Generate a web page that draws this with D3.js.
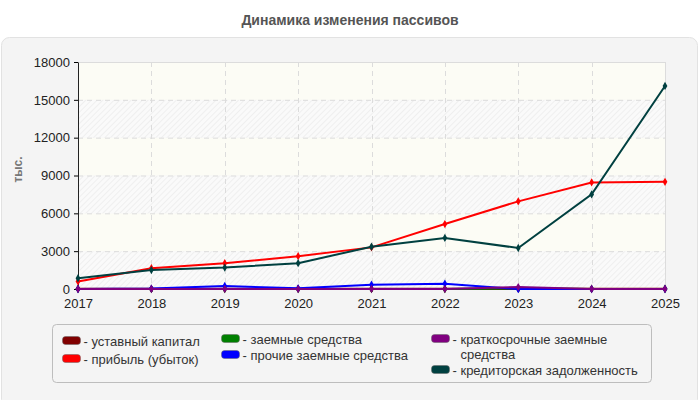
<!DOCTYPE html>
<html>
<head>
<meta charset="utf-8">
<script src="https://cdn.jsdelivr.net/npm/d3@7"></script>
<style>
  body { margin: 0; background: #fff; }
  text { font-family: "Liberation Sans", Arial, sans-serif; }
</style>
</head>
<body>
<div id="chart"></div>
<script>
// values (тыс.)
const years = [2017, 2018, 2019, 2020, 2021, 2022, 2023, 2024, 2025];
const yTicks = [0, 3000, 6000, 9000, 12000, 15000, 18000];

const ustavKapital = [20, 20, 20, 20, 20, 20, 20, 20, 20];
const pribyl = [600, 1650, 2050, 2600, 3300, 5150, 6950, 8450, 8500];
const zaemnye = [0, 0, 0, 0, 0, 0, 50, 0, 0];
const prochie = [0, 30, 240, 50, 340, 420, 0, 0, 0];
const kratkosrochnye = [0, 0, 0, 0, 0, 0, 150, 0, 0];
const kreditorka = [850, 1500, 1700, 2050, 3350, 4050, 3250, 7500, 16100];

const seriesNames = ["уставный капитал", "прибыль (убыток)", "заемные средства",
  "прочие заемные средства", "краткосрочные заемные средства", "кредиторская задолженность"];
const seriesColors = ["#800000", "#ff0000", "#008000", "#0000ff", "#800080", "#004040"];
const seriesValues = [ustavKapital, pribyl, zaemnye, prochie, kratkosrochnye, kreditorka];

const W = 700, H = 400;
const margin = {top: 62, right: 35, bottom: 111, left: 78};
const width = W - margin.left - margin.right;
const height = H - margin.top - margin.bottom;

const svg = d3.select("#chart").append("svg")
  .attr("width", W)
  .attr("height", H);

// hatch for the plot background
const defs = svg.append("defs");
const pat = defs.append("pattern")
  .attr("id", "hatch")
  .attr("patternUnits", "userSpaceOnUse")
  .attr("width", 4).attr("height", 4)
  .attr("patternTransform", "rotate(45)");
pat.append("rect").attr("width", 4).attr("height", 4).attr("fill", "#fafafa");
pat.append("line").attr("x1", 0).attr("y1", 0).attr("x2", 0).attr("y2", 4)
  .attr("stroke", "#ececec").attr("stroke-width", 1.5);

// outer panel
svg.append("rect")
  .attr("x", 1.5).attr("y", 37.5)
  .attr("width", 696).attr("height", 370)
  .attr("rx", 8)
  .attr("fill", "#f4f4f4")
  .attr("stroke", "#e2e2e2");

svg.append("text")
  .attr("x", W / 2).attr("y", 25)
  .attr("text-anchor", "middle")
  .style("font-size", "14px")
  .style("font-weight", "bold")
  .style("fill", "#555")
  .text("Динамика изменения пассивов");

svg.append("text")
  .attr("transform", "translate(22," + (margin.top + height / 2 - 6) + ") rotate(-90)")
  .attr("text-anchor", "middle")
  .style("font-size", "12px")
  .style("font-weight", "bold")
  .style("fill", "#777")
  .text("тыс.");

const g = svg.append("g")
  .attr("transform", "translate(" + margin.left + "," + margin.top + ")");

const x = d3.scaleLinear().domain([years[0], years[years.length - 1]]).range([0, width]);
const y = d3.scaleLinear().domain([0, 18000]).range([height, 0]);

// alternating bands
for (let i = 0; i < yTicks.length - 1; i++) {
  g.append("rect")
    .attr("x", 0)
    .attr("y", y(yTicks[i + 1]))
    .attr("width", width)
    .attr("height", y(yTicks[i]) - y(yTicks[i + 1]))
    .attr("fill", i % 2 === 0 ? "url(#hatch)" : "#fcfcf5");
}

// grid
g.selectAll(".hgrid").data(yTicks.slice(1, -1)).enter().append("line")
  .attr("x1", 0).attr("x2", width)
  .attr("y1", d => y(d) + 0.5).attr("y2", d => y(d) + 0.5)
  .attr("stroke", "#dcdcdc").attr("stroke-dasharray", "5,4");
g.selectAll(".vgrid").data(years.slice(1, -1)).enter().append("line")
  .attr("x1", d => Math.round(x(d)) + 0.5).attr("x2", d => Math.round(x(d)) + 0.5)
  .attr("y1", 0).attr("y2", height)
  .attr("stroke", "#dcdcdc").attr("stroke-dasharray", "5,4");
g.append("line").attr("x1", 0).attr("x2", width).attr("y1", 0.5).attr("y2", 0.5)
  .attr("stroke", "#dcdcdc");
g.append("line").attr("x1", width + 0.5).attr("x2", width + 0.5).attr("y1", 0).attr("y2", height)
  .attr("stroke", "#dcdcdc");

// axes
const yAxis = d3.axisLeft(y).tickValues(yTicks).tickFormat(d3.format("d")).tickSize(4).tickSizeOuter(0);
const xAxis = d3.axisBottom(x).tickValues(years).tickFormat(d3.format("d")).tickSize(3).tickSizeOuter(0);

g.append("g").attr("class", "y-axis").call(yAxis)
  .call(a => a.selectAll("text").style("font-size", "13px").style("fill", "#222").attr("dx", "-1"));
g.append("g").attr("class", "x-axis")
  .attr("transform", "translate(0," + height + ")")
  .call(xAxis)
  .call(a => a.selectAll("text").style("font-size", "13px").style("fill", "#222").attr("dy", "1em"));
g.selectAll(".domain").attr("stroke", "#222");

// lines
const line = d3.line()
  .x((d, i) => x(years[i]))
  .y(d => y(d));

const diamond = d3.symbol().type(d3.symbolDiamond).size(20);

seriesValues.forEach((vals, k) => {
  g.append("path")
    .datum(vals)
    .attr("fill", "none")
    .attr("stroke", seriesColors[k])
    .attr("stroke-width", 2)
    .attr("d", line);

  g.selectAll(".pt" + k).data(vals).enter().append("path")
    .attr("d", diamond)
    .attr("transform", (d, i) => "translate(" + x(years[i]) + "," + y(d) + ")")
    .attr("fill", seriesColors[k]);
});

// legend
const legend = svg.append("g").attr("transform", "translate(52.5,324.5)");
legend.append("rect")
  .attr("width", 599).attr("height", 58)
  .attr("rx", 4)
  .attr("fill", "#f4f4f4")
  .attr("stroke", "#bdbdbd");

// column / row placement of each legend entry
const legendPos = [
  {x: 10, y: 16}, {x: 10, y: 34},
  {x: 169, y: 14}, {x: 169, y: 30},
  {x: 379, y: 14}, {x: 379, y: 45}
];

seriesNames.forEach((name, k) => {
  const it = legend.append("g").attr("transform", "translate(" + legendPos[k].x + "," + legendPos[k].y + ")");
  it.append("rect")
    .attr("x", 0).attr("y", -4)
    .attr("width", 18).attr("height", 8)
    .attr("rx", 3)
    .attr("fill", seriesColors[k])
    .attr("stroke", "#666").attr("stroke-width", 0.5);
  if (k === 4) {
    it.append("text").attr("x", 21).attr("y", 5)
      .style("font-size", "13px").style("fill", "#333")
      .text("- краткосрочные заемные");
    it.append("text").attr("x", 29).attr("y", 20)
      .style("font-size", "13px").style("fill", "#333")
      .text("средства");
  } else {
    it.append("text").attr("x", 21).attr("y", 5)
      .style("font-size", "13px").style("fill", "#333")
      .text("- " + name);
  }
});
</script>
</body>
</html>
